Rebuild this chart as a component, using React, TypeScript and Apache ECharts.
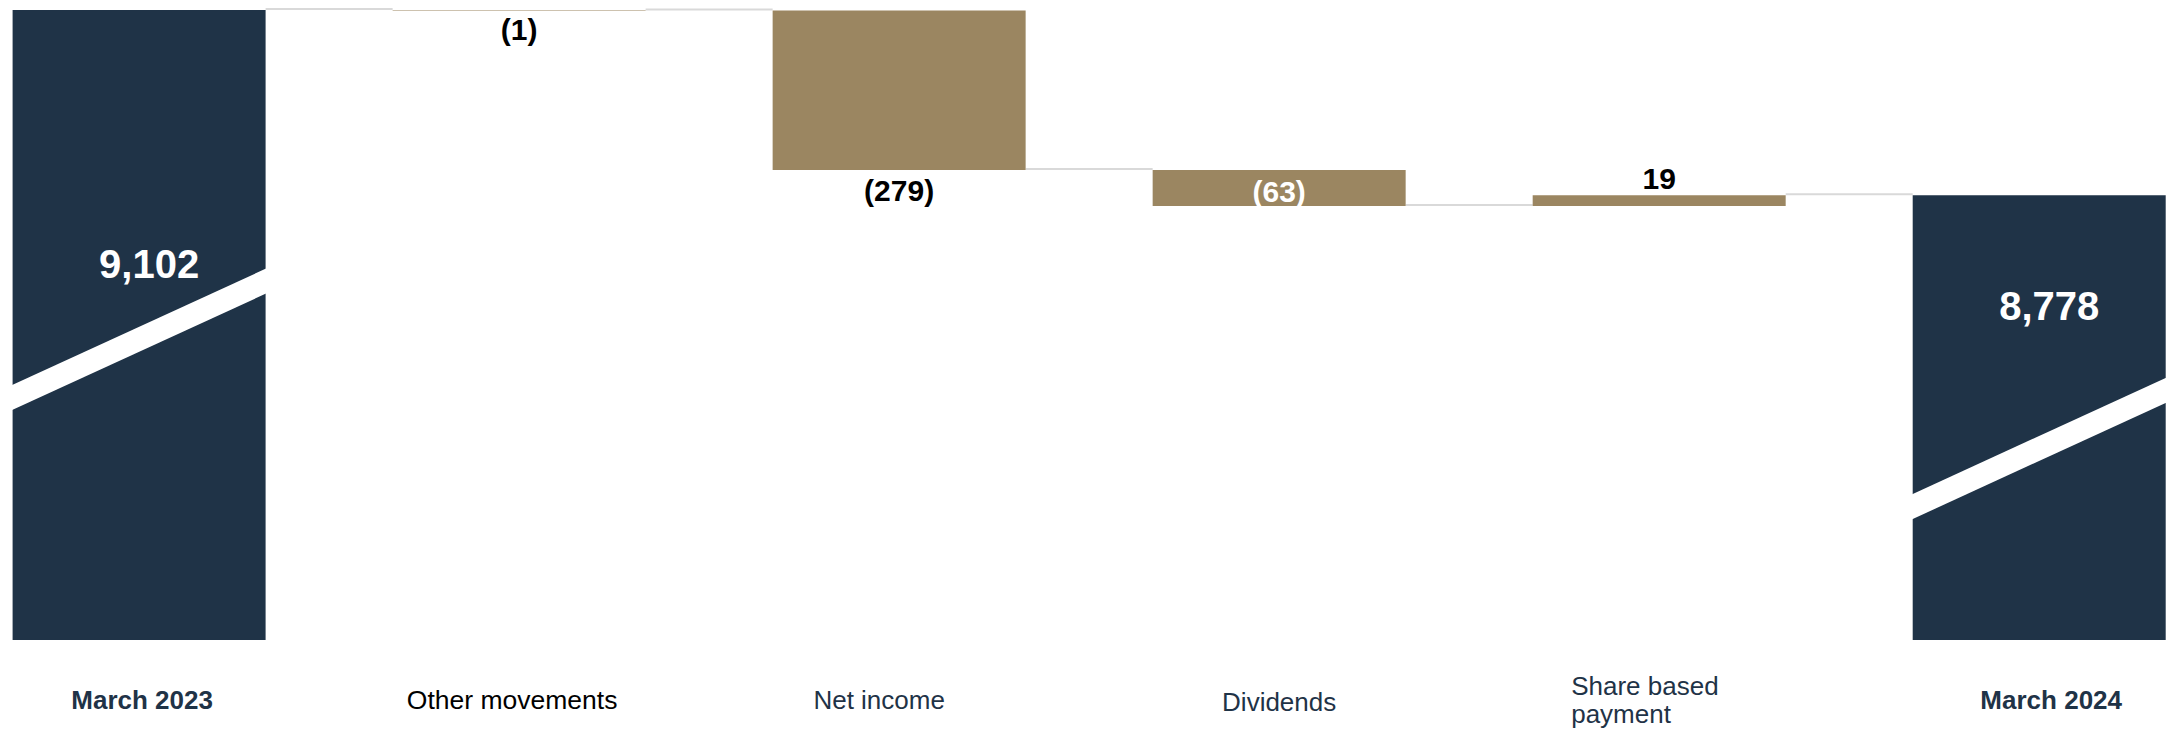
import React, { useEffect, useRef } from "react";
import * as echarts from "echarts";

// ---------- data ----------
const categories = [
  "March 2023",
  "Other movements",
  "Net income",
  "Dividends",
  "Share based\npayment",
  "March 2024",
];
const values = [9102, -1, -279, -63, 19, 8778];
const isTotal = [true, false, false, false, false, true];
// value level at which the white "axis break" stripe crosses each total bar
const breakLevels = [8526, 8335];
const breakIndex = [0, 5];
const Y_MIN = 8000;
const Y_MAX = 9102;

// ---------- style ----------
const NAVY = "#1F3347";
const GOLD = "#9B8661";
const FONT = "'Liberation Sans', Arial, Helvetica, sans-serif";
const BAR_W = 253;
const STRIPE_RISE = 117;
const STRIPE_THICK = 25;

// ---------- waterfall helpers built from data ----------
const bases: number[] = [];
const heights: number[] = [];
const levels: number[] = [];
{
  let run = 0;
  values.forEach((v, i) => {
    if (isTotal[i]) {
      bases.push(Y_MIN);
      heights.push(v - Y_MIN);
      run = v;
    } else {
      const next = run + v;
      bases.push(Math.min(run, next));
      heights.push(Math.abs(v));
      run = next;
    }
    levels.push(run);
  });
}

const fmt = (i: number) => {
  const v = values[i];
  if (isTotal[i]) return v.toLocaleString("en-US");
  return v < 0 ? `(${-v})` : `${v}`;
};

const labelStyles: any[] = [
  { position: ["50%", 254], align: "center", verticalAlign: "middle", offset: [10, 0], fontSize: 40, color: "#fff" },
  { position: "bottom", distance: 4, fontSize: 30, color: "#000" },
  { position: "bottom", distance: 5, fontSize: 30, color: "#000" },
  { position: "inside", offset: [0, 3], fontSize: 30, color: "#fff" },
  { position: "top", distance: 2, fontSize: 30, color: "#000" },
  { position: ["50%", 111], align: "center", verticalAlign: "middle", offset: [10, 0], fontSize: 40, color: "#fff" },
];

const richKey = ["tot0", "oth", "mv", "dv", "sb", "tot5"];

export default function App() {
  const ref = useRef<HTMLDivElement>(null);

  useEffect(() => {
    if (!ref.current) return;
    const chart = echarts.init(ref.current, undefined, { renderer: "svg" });

    const visibleData = heights.map((h, i) => ({
      value: h,
      itemStyle: { color: isTotal[i] ? NAVY : GOLD },
      label: {
        show: true,
        fontFamily: FONT,
        fontWeight: "bold",
        formatter: () => fmt(i),
        ...labelStyles[i],
      },
    }));

    const base = { fontFamily: FONT, fontSize: 26, lineHeight: 28 };

    const option: any = {
      animation: false,
      backgroundColor: "#ffffff",
      grid: { left: 139.1, right: 129.8, top: 10, bottom: 92, containLabel: false },
      xAxis: {
        type: "category",
        data: categories,
        boundaryGap: false,
        axisLine: { show: false },
        axisTick: { show: false },
        splitLine: { show: false },
        axisLabel: {
          interval: 0,
          margin: 60,
          verticalAlign: "middle",
          fontFamily: FONT,
          fontSize: 26,
          lineHeight: 28,
          color: NAVY,
          formatter: (val: string) => {
            const idx = categories.indexOf(val);
            const key = richKey[idx];
            return val
              .split("\n")
              .map((line) => `{${key}|${line}}`)
              .join("\n");
          },
          rich: {
            tot0: { ...base, fontWeight: "bold", color: NAVY, padding: [0, 0, 0, 6] },
            tot5: { ...base, fontWeight: "bold", color: NAVY, padding: [0, 0, 0, 24] },
            oth: { ...base, fontSize: 26.5, color: "#000000", padding: [0, 14, 0, 0] },
            mv: { ...base, color: NAVY, padding: [0, 40, 0, 0] },
            dv: { ...base, color: NAVY, padding: [4, 0, 0, 0] },
            sb: { ...base, color: NAVY, width: 176, align: "left" },
          },
        },
      },
      yAxis: {
        type: "value",
        min: Y_MIN,
        max: Y_MAX,
        show: false,
        splitLine: { show: false },
      },
      series: [
        {
          name: "connectors",
          type: "custom",
          z: 1,
          silent: true,
          data: levels.slice(0, levels.length - 1).map((lv, i) => [i, lv]),
          renderItem: (params: any, api: any) => {
            const i = api.value(0);
            const y = api.value(1);
            const p1 = api.coord([i, y]);
            const p2 = api.coord([i + 1, y]);
            return {
              type: "line",
              shape: { x1: p1[0] + BAR_W / 2, y1: p1[1] - 1, x2: p2[0] - BAR_W / 2, y2: p2[1] - 1 },
              style: { stroke: "#D9D9D9", lineWidth: 2 },
            };
          },
        },
        {
          name: "base",
          type: "bar",
          stack: "wf",
          barWidth: BAR_W,
          clip: false,
          z: 2,
          silent: true,
          itemStyle: { color: "transparent" },
          data: bases,
        },
        {
          name: "change",
          type: "bar",
          stack: "wf",
          barWidth: BAR_W,
          clip: false,
          z: 3,
          data: visibleData,
        },
        {
          name: "breaks",
          type: "custom",
          z: 4,
          silent: true,
          data: breakIndex.map((ci, k) => [ci, breakLevels[k]]),
          renderItem: (params: any, api: any) => {
            const c = api.coord([api.value(0), api.value(1)]);
            const hw = BAR_W / 2 + 1;
            const r = STRIPE_RISE / 2;
            const t = STRIPE_THICK / 2;
            return {
              type: "polygon",
              shape: {
                points: [
                  [c[0] - hw, c[1] + r - t],
                  [c[0] + hw, c[1] - r - t],
                  [c[0] + hw, c[1] - r + t],
                  [c[0] - hw, c[1] + r + t],
                ],
              },
              style: { fill: "#ffffff" },
            };
          },
        },
      ],
    };

    chart.setOption(option);
    return () => chart.dispose();
  }, []);

  return (
    <div
      ref={ref}
      style={{ position: "absolute", left: 0, top: 0, width: 2169, height: 732 }}
    />
  );
}
